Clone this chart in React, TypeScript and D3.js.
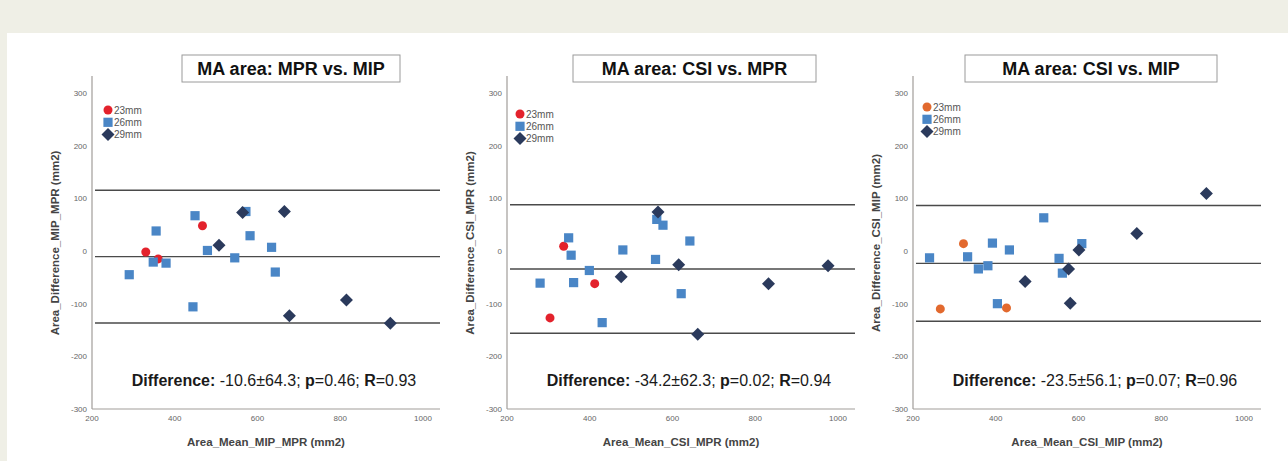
import React from 'react';
import * as d3 from 'd3';

type Pt = [number, number];

// panel 1: MIP vs MPR
const mipMpr23: Pt[] = [[330, -2], [360, -15], [467, 48]];
const mipMpr26: Pt[] = [
  [290, -45], [355, 38], [348, -21], [379, -23], [449, 67], [479, 1],
  [444, -106], [545, -13], [572, 75], [582, 29], [634, 7], [643, -40],
];
const mipMpr29: Pt[] = [[507, 11], [564, 73], [665, 75], [677, -123], [815, -93], [921, -137]];

// panel 2: CSI vs MPR
const csiMpr23: Pt[] = [[337, 9], [412, -62], [304, -127]];
const csiMpr26: Pt[] = [
  [349, 25], [355, -8], [280, -61], [361, -60], [399, -37], [480, 2],
  [430, -136], [559, -16], [562, 60], [577, 49], [642, 19], [621, -81],
];
const csiMpr29: Pt[] = [[565, 74], [476, -49], [615, -26], [661, -158], [832, -62], [976, -28]];

// panel 3: CSI vs MIP
const csiMip23: Pt[] = [[322, 14], [266, -110], [426, -108]];
const csiMip26: Pt[] = [
  [240, -13], [332, -11], [358, -34], [381, -28], [392, 15], [433, 2],
  [404, -100], [516, 63], [553, -14], [561, -42], [608, 14],
];
const csiMip29: Pt[] = [[471, -58], [576, -34], [580, -99], [601, 2], [741, 33], [909, 109]];

const titles = ['MA area: MPR vs. MIP', 'MA area: CSI vs. MPR', 'MA area: CSI vs. MIP'];
const xLabels = ['Area_Mean_MIP_MPR (mm2)', 'Area_Mean_CSI_MPR (mm2)', 'Area_Mean_CSI_MIP (mm2)'];
const yLabels = ['Area_Difference_MIP_MPR (mm2)', 'Area_Difference_CSI_MPR (mm2)', 'Area_Difference_CSI_MIP (mm2)'];
const means = [-10.6, -34.2, -23.5];
const sds = [64.3, 62.3, 56.1];
const pValues = ['0.46', '0.02', '0.07'];
const rValues = ['0.93', '0.94', '0.96'];
const legendLabels = ['23mm', '26mm', '29mm'];
const xTicks = [200, 400, 600, 800, 1000];
const yTicks = [300, 200, 100, 0, -100, -200, -300];

const series = [
  [mipMpr23, mipMpr26, mipMpr29],
  [csiMpr23, csiMpr26, csiMpr29],
  [csiMip23, csiMip26, csiMip29],
];

// layout
const panels = [
  { left: 92, titleX: 182, titleW: 218, legendX: 108, legendY: 110, red: '#e3222c' },
  { left: 507, titleX: 573, titleW: 243, legendX: 520, legendY: 114, red: '#e3222c' },
  { left: 913, titleX: 965, titleW: 252, legendX: 927, legendY: 107, red: '#e2692e' },
];
const plotW = 331;
const yTop = 93;
const yBottom = 409;
const blue = '#4a86c6';
const navy = '#2b3a5c';
const font = 'Arial, "Liberation Sans", Helvetica, sans-serif';

const Marker = ({ kind, x, y, color }: { kind: number; x: number; y: number; color: string }) => {
  if (kind === 0) return <circle cx={x} cy={y} r={4.5} fill={color} />;
  if (kind === 1) return <rect x={x - 4.6} y={y - 4.6} width={9.2} height={9.2} fill={blue} />;
  const s = 6.5;
  return <path d={`M${x},${y - s}L${x + s},${y}L${x},${y + s}L${x - s},${y}Z`} fill={navy} />;
};

const Panel = ({ i }: { i: number }) => {
  const p = panels[i];
  const x = d3.scaleLinear().domain([200, 1000]).range([p.left, p.left + plotW]);
  const y = d3.scaleLinear().domain([-300, 300]).range([yBottom, yTop]);
  const axisRight = p.left + 348;
  const limits = [means[i] + 1.96 * sds[i], means[i], means[i] - 1.96 * sds[i]];
  const cx = p.left + 182;
  return (
    <g fontFamily={font}>
      <rect x={p.titleX} y={55} width={p.titleW} height={27} fill="#fff" stroke="#9a9a9a" strokeWidth={1} />
      <text x={p.titleX + p.titleW / 2} y={75} textAnchor="middle" fontSize={18} fontWeight="bold" fill="#111">
        {titles[i]}
      </text>
      <line x1={p.left} x2={p.left} y1={76} y2={yBottom} stroke="#a19d99" strokeWidth={1.2} />
      <line x1={p.left} x2={axisRight} y1={yBottom} y2={yBottom} stroke="#a19d99" strokeWidth={1.2} />
      {yTicks.map((t) => (
        <text key={t} x={p.left - 5} y={y(t) + 3} textAnchor="end" fontSize={8} fill="#666">
          {t}
        </text>
      ))}
      {xTicks.map((t) => (
        <text key={t} x={x(t)} y={421} textAnchor="middle" fontSize={8} fill="#666">
          {t}
        </text>
      ))}
      {limits.map((v, k) => (
        <line key={k} x1={p.left + 3} x2={axisRight} y1={y(v)} y2={y(v)} stroke="#4a4a4a" strokeWidth={1.4} />
      ))}
      {series[i].map((pts, k) =>
        pts.map((d, j) => <Marker key={`${k}-${j}`} kind={k} x={x(d[0])} y={y(d[1])} color={p.red} />)
      )}
      {legendLabels.map((l, k) => (
        <g key={l}>
          <Marker kind={k} x={p.legendX} y={p.legendY + k * 12.3} color={p.red} />
          <text x={p.legendX + 6} y={p.legendY + k * 12.3 + 3.5} fontSize={10} fill="#555">
            {l}
          </text>
        </g>
      ))}
      <text x={cx} y={386} textAnchor="middle" fontSize={16} fill="#1a1a1a">
        <tspan fontWeight="bold">Difference:</tspan>
        {` ${means[i].toFixed(1)}±${sds[i].toFixed(1)}; `}
        <tspan fontWeight="bold">p</tspan>
        {`=${pValues[i]}; `}
        <tspan fontWeight="bold">R</tspan>
        {`=${rValues[i]}`}
      </text>
      <text x={p.left + 174} y={446} textAnchor="middle" fontSize={11.5} fontWeight="bold" fill="#444">
        {xLabels[i]}
      </text>
      <text
        transform={`translate(${p.left - 33},243) rotate(-90)`}
        textAnchor="middle"
        fontSize={11.5}
        fontWeight="bold"
        fill="#444"
      >
        {yLabels[i]}
      </text>
    </g>
  );
};

export default function App() {
  return (
    <svg width={1288} height={461} style={{ position: 'absolute', left: 0, top: 0 }}>
      <rect x={0} y={0} width={1288} height={461} fill="#efefe6" />
      <rect x={7} y={33} width={1281} height={428} fill="#fff" />
      {[0, 1, 2].map((i) => (
        <Panel key={i} i={i} />
      ))}
    </svg>
  );
}
